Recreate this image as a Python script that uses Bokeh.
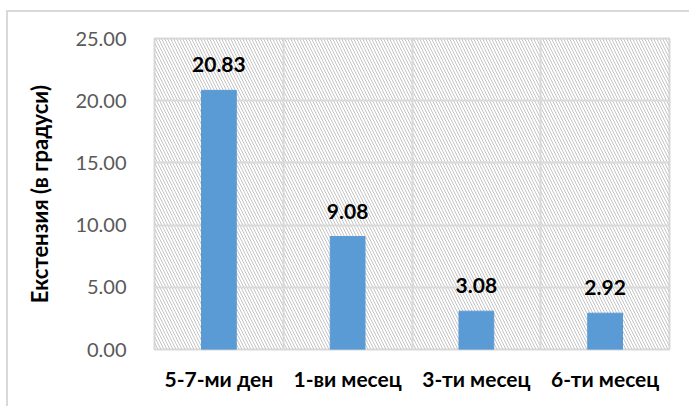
from bokeh.plotting import figure
from bokeh.models import ColumnDataSource, FixedTicker, NumeralTickFormatter, Range1d
from bokeh.core.properties import value
from bokeh.embed import file_html
from bokeh.resources import INLINE

categories = ["5-7-ми ден", "1-ви месец", "3-ти месец", "6-ти месец"]
values = [20.83, 9.08, 3.08, 2.92]
y_ticks = [0, 5, 10, 15, 20, 25]
y_label = "Екстензия (в градуси)"

FONT = "Lato"
GRID = "#d9d9d9"

xs = [i + 0.5 for i in range(len(categories))]
src = ColumnDataSource(dict(x=xs, top=values, lbl=["%.2f" % v for v in values]))

p = figure(width=683, height=396, output_backend="svg", toolbar_location=None,
           x_range=Range1d(0, len(categories)), y_range=Range1d(0, y_ticks[-1]),
           min_border_left=146, min_border_right=22, min_border_top=26, min_border_bottom=59,
           margin=(10, 0, 0, 6),
           styles={"border-left": "2px solid #d9d9d9", "border-top": "2px solid #d9d9d9"})

# hatched plot-area background
p.quad(left=[0], right=[len(categories)], bottom=[0], top=[y_ticks[-1]],
       fill_alpha=0, line_alpha=0, hatch_pattern="\\", hatch_color="#c4c4c4",
       hatch_scale=6, hatch_weight=1, level="underlay")

p.vbar(x="x", top="top", width=0.27, bottom=0, source=src, color="#5b9bd5")
p.text(x="x", y="top", text="lbl", source=src, text_align="center", text_baseline="bottom",
       y_offset=-18, text_font=value(FONT), text_font_style="bold", text_font_size="21px",
       text_color="#000000")

p.outline_line_color = GRID
p.outline_line_width = 2

p.xgrid.ticker = FixedTicker(ticks=list(range(len(categories) + 1)))
p.ygrid.ticker = FixedTicker(ticks=y_ticks)
for g in (p.xgrid, p.ygrid):
    g.grid_line_color = GRID
    g.grid_line_width = 2

p.xaxis.ticker = FixedTicker(ticks=xs)
p.xaxis.major_label_overrides = {x: c for x, c in zip(xs, categories)}
p.yaxis.ticker = FixedTicker(ticks=y_ticks)
p.yaxis.formatter = NumeralTickFormatter(format="0.00")
for ax in (p.xaxis, p.yaxis):
    ax.axis_line_color = None
    ax.major_tick_line_color = None
    ax.minor_tick_line_color = None
    ax.major_label_text_font = FONT

p.xaxis.major_label_text_font_size = "21px"
p.xaxis.major_label_text_font_style = "bold"
p.xaxis.major_label_text_color = "#000000"
p.xaxis.major_label_standoff = 10
p.yaxis.major_label_text_font_size = "20px"
p.yaxis.major_label_text_color = "#595959"
p.yaxis.major_label_standoff = 22
p.yaxis.axis_label = y_label
p.yaxis.axis_label_text_font = FONT
p.yaxis.axis_label_text_font_style = "bold"
p.yaxis.axis_label_text_font_size = "22px"
p.yaxis.axis_label_text_color = "#000000"
p.yaxis.axis_label_standoff = 19

open("out.html", "w").write(file_html(p, INLINE))
